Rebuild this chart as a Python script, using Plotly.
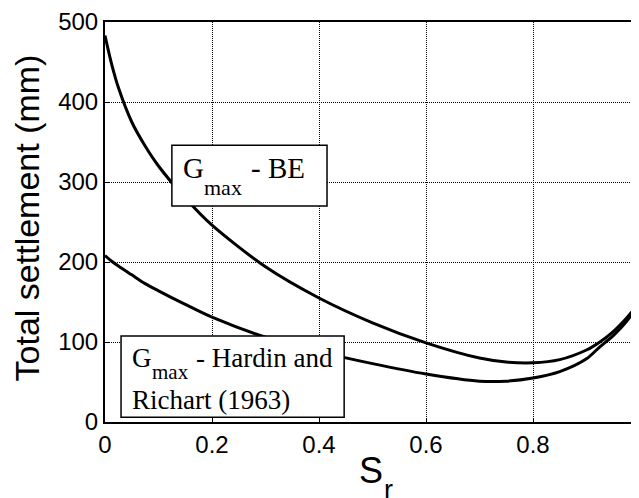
import plotly.graph_objects as go

# degree of saturation
sr = [0, 0.0125, 0.025, 0.05, 0.075, 0.1, 0.15, 0.2, 0.3, 0.4, 0.5, 0.6, 0.7, 0.75, 0.8,
      0.85, 0.9, 0.925, 0.95, 0.975, 1.0]
# total settlement (mm)
settle_be = [483, 447, 418, 375, 345, 320, 280, 246, 194, 155, 124, 99, 80, 75, 74,
             78, 90, 100, 113, 130, 150]
settle_hr = [208, 201, 195, 184, 173, 164, 147, 131, 106, 88, 73, 60, 51, 51, 55,
             63, 79, 94, 108, 126, 150]

xticks = [0, 0.2, 0.4, 0.6, 0.8, 1]
yticks = [0, 100, 200, 300, 400, 500]

serif = "Liberation Serif"
sans = "Liberation Sans"

fig = go.Figure()
for ys in (settle_be, settle_hr):
    fig.add_trace(go.Scatter(x=sr, y=ys, mode="lines", line=dict(color="black", width=3),
                             line_shape="spline", line_smoothing=0.8, showlegend=False))

# label boxes
fig.add_shape(type="rect", x0=0.125, x1=0.415, y0=270, y1=346, layer="above",
              line=dict(color="black", width=1.5), fillcolor="white")
fig.add_shape(type="rect", x0=0.030, x1=0.447, y0=6, y1=107.5, layer="above",
              line=dict(color="black", width=1.5), fillcolor="white")


def txt(x, y, s, size, family=serif, **kw):
    fig.add_annotation(x=x, y=y, text=s, showarrow=False, xanchor="left", yanchor="middle",
                       font=dict(family=family, size=size, color="black"), **kw)


# G_max - BE
txt(0.142, 318, "G", 29)
txt(0.181, 293, "max", 22)
txt(0.269, 318, "- BE", 29)
# G_max - Hardin and Richart (1963)
txt(0.047, 79.5, "G", 27)
txt(0.084, 62.5, "max", 21)
txt(0.166, 79.5, "- Hardin and", 27)
txt(0.047, 27.5, "Richart (1963)", 27)

# axis titles
fig.add_annotation(xref="paper", yref="paper", x=-0.145, y=0.51, text="Total settlement (mm)",
                   textangle=-90, showarrow=False, xanchor="center", yanchor="middle",
                   font=dict(family=sans, size=34, color="black"))
fig.add_annotation(xref="paper", yref="paper", x=0.471, y=-0.12, text="S", showarrow=False,
                   xanchor="left", yanchor="middle", font=dict(family=sans, size=36, color="black"))
fig.add_annotation(xref="paper", yref="paper", x=0.518, y=-0.17, text="r", showarrow=False,
                   xanchor="left", yanchor="middle", font=dict(family=sans, size=27, color="black"))

axis_common = dict(showline=True, mirror=True, linecolor="black", linewidth=2,
                   ticks="inside", ticklen=4, tickcolor="black", automargin=False,
                   showgrid=True, gridcolor="black", gridwidth=1, griddash="1px,1px",
                   zeroline=False, tickfont=dict(family=sans, size=24, color="black"))

fig.update_xaxes(range=[0, 1], tickvals=xticks, ticktext=["0", "0.2", "0.4", "0.6", "0.8", "1"],
                 **axis_common)
fig.update_yaxes(range=[0, 500], tickvals=yticks, **axis_common)

fig.update_layout(width=639, height=498, margin=dict(l=97, r=7, t=14, b=84),
                  plot_bgcolor="white", paper_bgcolor="white")

fig.write_html("out.html")
